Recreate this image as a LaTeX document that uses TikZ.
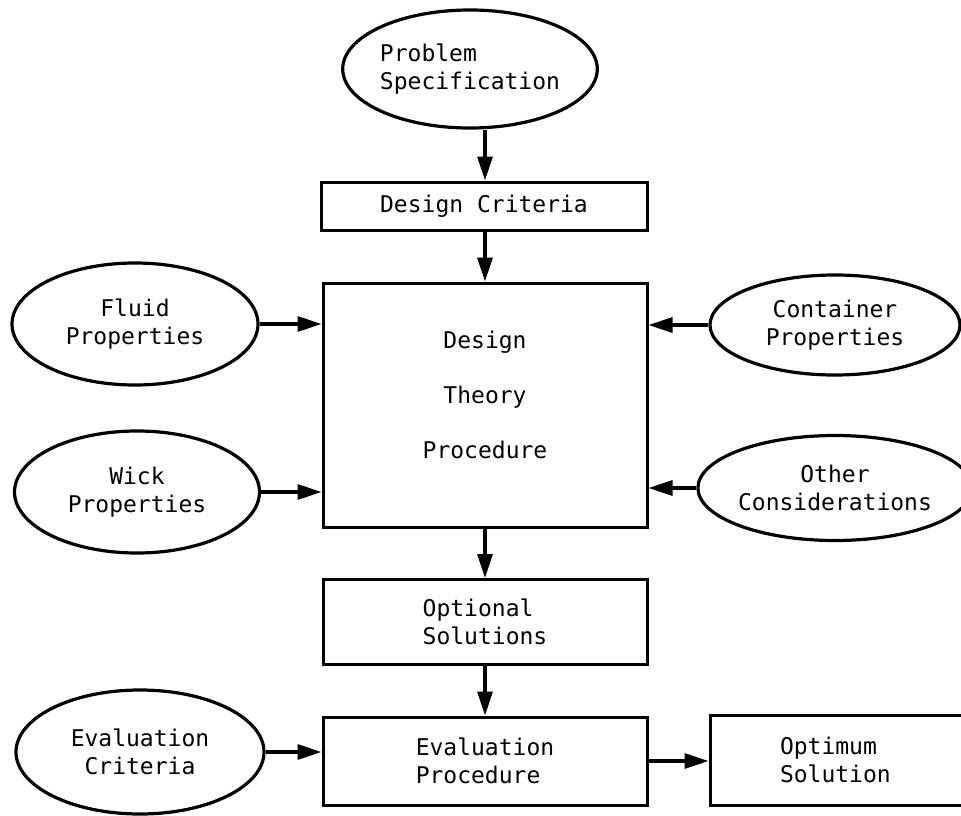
\documentclass[tikz,border=0pt]{standalone}
\usepackage{fontspec}
\setmonofont{DejaVu Sans Mono}
\usetikzlibrary{shapes.geometric,arrows.meta}

\tikzset{
  oval/.style={ellipse,draw,line width=3.2pt,inner sep=0pt,align=center},
  blk/.style={rectangle,draw,line width=3pt,inner sep=0pt,align=center},
  arr/.style={line width=3.2pt,-{Triangle[length=24pt,width=15pt]}}
}

\begin{document}
\begin{tikzpicture}[x=1pt,y=-1pt,font=\ttfamily\fontsize{23}{28}\selectfont]
            \useasboundingbox (0,0) rectangle (961,816);

            \node (ps) at (470,69) [oval,minimum width=220pt,minimum height=118pt,align=left] {Problem\\Specification};
            \node (dc) at (484,206) [blk,minimum width=326pt,minimum height=48pt] {Design Criteria};
            \node (dt) at (485,405) [blk,minimum width=324pt,minimum height=244pt,
                  label={[yshift=10pt,align=center,font=\ttfamily\fontsize{23}{55}\selectfont]center:Design\\Theory\\Procedure}] {};
            \node (fp) at (135,324) [oval,minimum width=246pt,minimum height=122pt] {Fluid\\Properties};
            \node (wp) at (137,492) [oval,minimum width=245pt,minimum height=122pt] {Wick\\Properties};
            \node (cp) at (835,325) [oval,minimum width=250pt,minimum height=100pt] {Container\\Properties};
            \node (oc) at (835,488) [oval,minimum width=250pt,minimum height=105pt] {Other\\Considerations};
            \node (os) at (485,622) [blk,minimum width=324pt,minimum height=85pt,align=left] {Optional\\Solutions};
            \node (ep) at (485,761) [blk,minimum width=324pt,minimum height=88pt,align=left] {Evaluation\\Procedure};
            \node (ec) at (140,752) [oval,minimum width=248pt,minimum height=124pt] {Evaluation\\Criteria};
            \node (so) at (860,760) [blk,text width=160pt,inner xsep=70pt,minimum height=90pt,align=left] {Optimum\\Solution};


            \draw[arr] (ps.south -| dt.north) -- (dc.north -| dt.north);
            \draw[arr] (dc.south -| dt.north) -- (dt.north);
            \draw[arr] (dt) -- (os);
            \draw[arr] (os) -- (ep);
            \draw[arr] (fp.east) -- (fp.east -| dt.west);
            \draw[arr] (wp.east) -- (wp.east -| dt.west);
            \draw[arr] (cp.west) -- (cp.west -| dt.east);
            \draw[arr] (oc.west) -- (oc.west -| dt.east);
            \draw[arr] (ec.east) -- (ec.east -| ep.west);
            \draw[arr] (ep.east) -- (ep.east -| so.west);

        \end{tikzpicture}
\end{document}
